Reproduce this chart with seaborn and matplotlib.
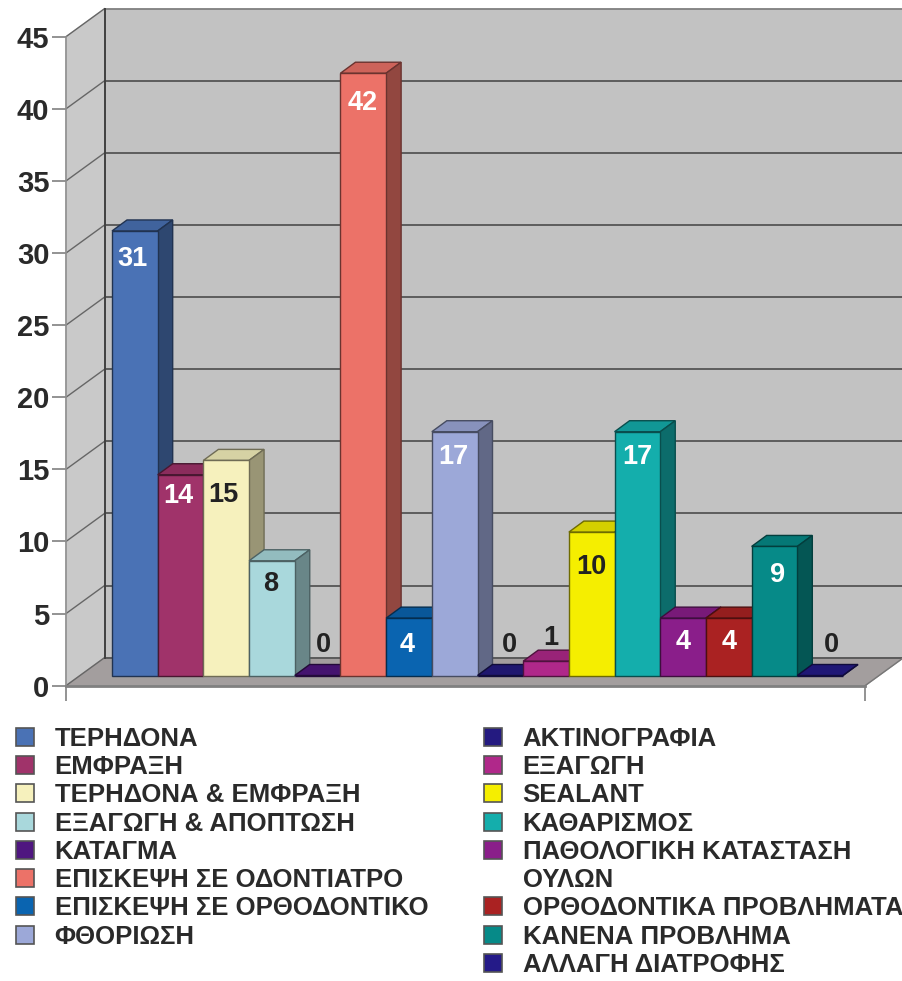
import matplotlib
matplotlib.use('Agg')
import matplotlib.pyplot as plt
import numpy as np
import pandas as pd
import seaborn as sns
from matplotlib.patches import Patch

# Data
categories = ['ΤΕΡΗΔΟΝΑ', 'ΕΜΦΡΑΞΗ', 'ΤΕΡΗΔΟΝΑ & ΕΜΦΡΑΞΗ', 'ΕΞΑΓΩΓΗ & ΑΠΟΠΤΩΣΗ', 'ΚΑΤΑΓΜΑ',
              'ΕΠΙΣΚΕΨΗ ΣΕ ΟΔΟΝΤΙΑΤΡΟ', 'ΕΠΙΣΚΕΨΗ ΣΕ ΟΡΘΟΔΟΝΤΙΚΟ', 'ΦΘΟΡΙΩΣΗ',
              'ΑΚΤΙΝΟΓΡΑΦΙΑ', 'ΕΞΑΓΩΓΗ', 'SEALANT', 'ΚΑΘΑΡΙΣΜΟΣ',
              'ΠΑΘΟΛΟΓΙΚΗ ΚΑΤΑΣΤΑΣΗ\nΟΥΛΩΝ', 'ΟΡΘΟΔΟΝΤΙΚΑ ΠΡΟΒΛΗΜΑΤΑ', 'ΚΑΝΕΝΑ ΠΡΟΒΛΗΜΑ', 'ΑΛΛΑΓΗ ΔΙΑΤΡΟΦΗΣ']
values = [31, 14, 15, 8, 0, 42, 4, 17, 0, 1, 10, 17, 4, 4, 9, 0]
colors = ['#4a72b5', '#a0336a', '#f6f1bd', '#a9d8dc', '#4f1680', '#ec7268', '#0a64b0', '#9ca8d8',
          '#241a80', '#b0288a', '#f5ee00', '#14aeac', '#8a1e8a', '#aa2222', '#068a88', '#241a88']
label_colors = ['white', 'white', '#222222', '#222222', '#222222', 'white', 'white', 'white',
                '#222222', '#222222', '#222222', 'white', 'white', 'white', 'white', '#222222']
yticks = [0, 5, 10, 15, 20, 25, 30, 35, 40, 45]

# Label nudges in pixels (the labels were placed by hand in the original)
label_dx = [-2, -2, -3, -1, 6, -1, -2, -1, 9, 5, 0, 0, 0, 0, 3, 11]
label_dy = [-28, -21, -35, -23, 30, -30, -27, -25, 30, 23, -35, -25, -24, -24, -29, 30]

W, H = 902, 981
plt.rcParams['font.family'] = ['Liberation Sans', 'DejaVu Sans']
plt.rcParams['font.weight'] = 'bold'


def shade(color, k):
    return tuple(np.array(matplotlib.colors.to_rgb(color)) * k)


fig = plt.figure(figsize=(W / 100, H / 100), dpi=100)

# Frame axes: front plane of the fake 3D box, holds the real y axis
x0, x1, y_top, y_bot = 66, 865, 36.7, 685.7
ax = fig.add_axes([x0 / W, 1 - y_bot / H, (x1 - x0) / W, (y_bot - y_top) / H])
ax.set_xlim(0, 1)
ax.set_ylim(0, 45)
ax.patch.set_alpha(0)
depth_x = 38.5 / (x1 - x0)
depth_y = 28 / ((y_bot - y_top) / 45)

ax.fill([0, depth_x, depth_x, 0], [0, depth_y, 45 + depth_y, 45], color='#c9c9c9', clip_on=False, zorder=0)
ax.fill([depth_x, 1 + depth_x, 1 + depth_x, depth_x], [depth_y, depth_y, 45 + depth_y, 45 + depth_y],
        color='#c2c2c2', clip_on=False, zorder=0)
ax.fill([0, 1, 1 + depth_x, depth_x], [0, 0, depth_y, depth_y], color='#a39e9e', clip_on=False, zorder=0.5)
for t in yticks:
    ax.plot([0, depth_x], [t, t + depth_y], color='#666666', lw=1, clip_on=False, zorder=1)
    line_col = '#808080' if t == 45 else '#555555'
    ax.plot([depth_x, 1 + depth_x], [t + depth_y, t + depth_y], color=line_col, lw=1.3, clip_on=False, zorder=1)
ax.plot([depth_x, depth_x], [depth_y, 45 + depth_y], color='#404040', lw=1.4, clip_on=False, zorder=1)
ax.plot([1, 1 + depth_x], [0, depth_y], color='#777777', lw=1, clip_on=False, zorder=1)

ax.set_yticks(yticks)
ax.set_xticks([0, 1])
ax.set_xticklabels([])
ax.tick_params(axis='y', length=10, width=1.2, color='#808080', labelsize=21, labelcolor='#2a2a2a', pad=2)
ax.tick_params(axis='x', length=11, width=1.2, color='#808080')
sns.despine(ax=ax, top=True, right=True)
ax.spines['left'].set_color('#909090')
ax.spines['left'].set_linewidth(1.2)
ax.spines['bottom'].set_color('#808080')
ax.spines['bottom'].set_linewidth(2)

# Bars live on their own plane, halfway into the box
bx0, bx1, base, unit = 112, 843, 675.5, 14.34
ax_bars = fig.add_axes([bx0 / W, 1 - base / H, (bx1 - bx0) / W, 45 * unit / H])
df = pd.DataFrame({'cat': categories, 'value': values})
sns.barplot(data=df, x='cat', y='value', hue='cat', palette=colors, dodge=False, width=1,
            legend=False, ax=ax_bars, saturation=1)
ax_bars.set_xlim(-0.5, 15.5)
ax_bars.set_ylim(0, 45)
ax_bars.axis('off')

bar_dx = 15 / ((bx1 - bx0) / 16)
bar_dy = 11 / unit
patches = [p for c in ax_bars.containers for p in c]
for i, (p, v, col) in enumerate(zip(patches, values, colors)):
    edge = shade(col, 0.45)
    z = 3 + i
    p.set_edgecolor(edge)
    p.set_linewidth(1)
    p.set_zorder(z + 0.5)
    p.set_clip_on(False)
    left, right = i - 0.5, i + 0.5
    ax_bars.fill([left, right, right + bar_dx, left + bar_dx], [v, v, v + bar_dy, v + bar_dy],
                 facecolor=shade(col, 0.87), edgecolor=edge, lw=1, clip_on=False, zorder=z)
    ax_bars.fill([right, right + bar_dx, right + bar_dx, right], [0, bar_dy, v + bar_dy, v],
                 facecolor=shade(col, 0.62), edgecolor=edge, lw=1, clip_on=False, zorder=z)
    ax_bars.annotate(str(v), (i, v), xytext=(label_dx[i] * 0.72, label_dy[i] * 0.72),
                     textcoords='offset points', ha='center', va='center', fontsize=19.5,
                     color=label_colors[i], zorder=40, annotation_clip=False)

# Legends, one per column; a wrapped name gets a second row with no swatch
for idx, anchor_x, anchor_y in [(range(0, 8), 16, 727), (range(8, 16), 484, 727)]:
    handles = []
    for i in idx:
        parts = categories[i].split('\n')
        handles.append(Patch(facecolor=colors[i], edgecolor='#555555', lw=1.2, label=parts[0]))
        for extra in parts[1:]:
            handles.append(Patch(facecolor='none', edgecolor='none', label=extra))
    leg = fig.legend(handles=handles, loc='upper left', bbox_to_anchor=(anchor_x / W, 1 - anchor_y / H),
                     frameon=False, fontsize=18.5, borderpad=0, borderaxespad=0, handlelength=0.7,
                     handleheight=0.7, handletextpad=0.8, labelspacing=0.165)
    for t in leg.get_texts():
        t.set_color('#2a2a2a')

fig.savefig('out.png', dpi=100)
